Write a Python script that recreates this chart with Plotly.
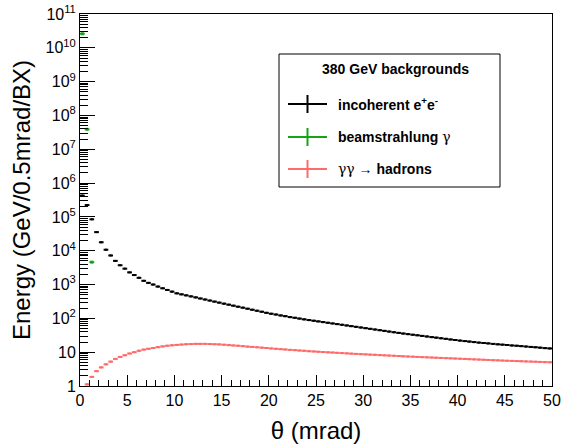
import numpy as np
import plotly.graph_objects as go

# Angular binning: 100 bins of 0.5 mrad from 0 to 50 mrad
bin_width = 0.5
n_bins = 100
theta = (np.arange(n_bins) + 0.5) * bin_width

# Energy per bin (GeV / 0.5 mrad / BX)
incoherent = [
    4.27e5, 2.24e5, 8.5e4, 3.55e4, 1.78e4, 1.07e4, 7.24e3, 5.01e3, 3.72e3, 2.95e3,
    2.29e3, 1.91e3, 1.58e3, 1.29e3, 1.12e3, 1000, 871, 776, 692, 617,
    550, 513, 479, 447, 417, 387, 361, 336, 313, 292,
    272, 254, 237, 221, 207, 193, 180, 168, 157, 146,
    137, 130, 122, 116, 109, 104, 98.6, 93.5, 89.1, 85.1,
    81.3, 77.6, 74.1, 70.8, 67.6, 64.6, 61.7, 58.9, 56.2, 53.7,
    51.3, 49.0, 46.8, 44.7, 42.7, 40.7, 38.9, 37.2, 35.6, 34.2,
    32.8, 31.6, 30.3, 29.1, 27.9, 26.9, 25.8, 24.8, 23.8, 22.9,
    22.0, 21.3, 20.6, 19.9, 19.2, 18.7, 18.2, 17.6, 17.1, 16.7,
    16.3, 15.8, 15.5, 15.1, 14.7, 14.3, 14.0, 13.6, 13.2, 12.9,
]

beamstrahlung = [2.6e10, 3.9e7, 4.6e3] + [None] * (n_bins - 3)

gg_hadrons = [
    0.6, 1.12, 1.86, 2.75, 3.55, 4.37, 5.25, 6.31, 7.24, 8.13,
    9.12, 10.0, 11.0, 11.9, 12.6, 13.3, 14.1, 14.8, 15.5, 16.0,
    16.4, 16.8, 17.2, 17.4, 17.6, 17.6, 17.6, 17.4, 17.2, 17.0,
    16.6, 16.2, 15.8, 15.5, 15.1, 14.6, 14.3, 14.0, 13.6, 13.3,
    12.9, 12.6, 12.3, 12.0, 11.7, 11.5, 11.2, 11.0, 10.7, 10.5,
    10.3, 10.1, 9.93, 9.75, 9.57, 9.40, 9.23, 9.06, 8.89, 8.75,
    8.61, 8.47, 8.34, 8.20, 8.07, 7.94, 7.82, 7.69, 7.57, 7.45,
    7.35, 7.24, 7.14, 7.05, 6.95, 6.85, 6.76, 6.67, 6.58, 6.49,
    6.40, 6.31, 6.22, 6.14, 6.05, 5.97, 5.89, 5.81, 5.73, 5.65,
    5.58, 5.52, 5.46, 5.40, 5.33, 5.27, 5.21, 5.15, 5.09, 5.04,
]

GREEK = "<span style='font-family:DejaVu Serif'>{}</span>"
series_names = ["incoherent e<sup>+</sup>e<sup>-</sup>", "beamstrahlung γ", "γγ → hadrons"]
legend_labels = [
    "<b>incoherent e<sup>+</sup>e<sup>-</sup></b>",
    "<b>beamstrahlung</b> " + GREEK.format("γ"),
    GREEK.format("γγ") + " → <b>hadrons</b>",
]
colors = ["#000000", "#14a514", "#ff6b6b"]

y_tick_vals = [10 ** k for k in range(12)]
y_tick_text = ["1", "10"] + [f"10<sup>{k}</sup>" for k in range(2, 12)]

FONT = "Liberation Sans, Arial, Helvetica, sans-serif"

fig = go.Figure()
for name, vals, col, msize in zip(series_names, [incoherent, beamstrahlung, gg_hadrons], colors, [2, 3, 2]):
    fig.add_trace(go.Scatter(
        x=theta, y=vals, name=name, mode="markers",
        marker=dict(color=col, size=msize, symbol="square", line=dict(width=0)),
        error_x=dict(type="constant", value=bin_width / 2, thickness=2, width=0, color=col),
        cliponaxis=True, showlegend=False,
    ))

W, H = 563, 444
ml, mr, mt, mb = 80, 11, 14, 58
pw, ph = W - ml - mr, H - mt - mb


def px_x(p):
    return (p - ml) / pw


def px_y(p):
    return (H - mb - p) / ph


fig.update_layout(
    width=W, height=H,
    margin=dict(l=ml, r=mr, t=mt, b=mb, autoexpand=False),
    paper_bgcolor="white", plot_bgcolor="white",
    font=dict(family=FONT, color="black", size=16),
    showlegend=False,
)

fig.update_xaxes(
    range=[0, 50], showgrid=False, zeroline=False, automargin=False,
    showline=True, linecolor="black", linewidth=1, mirror=True,
    ticks="inside", ticklen=11, tickcolor="black", tickwidth=1,
    tick0=0, dtick=5, tickfont=dict(size=16),
    minor=dict(ticks="inside", ticklen=6, tickcolor="black", dtick=1, showgrid=False),
    title=dict(text="θ (mrad)", font=dict(size=24), standoff=13),
)

fig.update_yaxes(
    type="log", range=[0, 11], showgrid=False, zeroline=False, automargin=False,
    showline=True, linecolor="black", linewidth=1, mirror=True,
    ticks="inside", ticklen=15, tickcolor="black", tickwidth=1,
    tickmode="array", tickvals=y_tick_vals, ticktext=y_tick_text, tickfont=dict(size=16),
    minor=dict(ticks="inside", ticklen=8, tickcolor="black", dtick="D1", showgrid=False),
    title=dict(text="Energy (GeV/0.5mrad/BX)", font=dict(size=24), standoff=8),
)

# Legend box
shapes = [dict(type="rect", xref="paper", yref="paper",
               x0=px_x(279), x1=px_x(500), y0=px_y(187), y1=px_y(54),
               line=dict(color="black", width=1), fillcolor="white", layer="above")]
annotations = [dict(xref="paper", yref="paper", x=px_x(395), y=px_y(69),
                    text="<b>380 GeV backgrounds</b>", showarrow=False,
                    font=dict(size=14, family=FONT), xanchor="center", yanchor="middle")]
for row_y, col, lab in zip([104, 137, 169], colors, legend_labels):
    shapes.append(dict(type="line", xref="paper", yref="paper",
                       x0=px_x(288), x1=px_x(327), y0=px_y(row_y), y1=px_y(row_y),
                       line=dict(color=col, width=2), layer="above"))
    shapes.append(dict(type="line", xref="paper", yref="paper",
                       x0=px_x(307.5), x1=px_x(307.5), y0=px_y(row_y - 9), y1=px_y(row_y + 9),
                       line=dict(color=col, width=2), layer="above"))
    annotations.append(dict(xref="paper", yref="paper", x=px_x(336), y=px_y(row_y),
                            text=lab, showarrow=False, font=dict(size=14, family=FONT),
                            xanchor="left", yanchor="middle"))

fig.update_layout(shapes=shapes, annotations=annotations)

fig.write_html("out.html")
